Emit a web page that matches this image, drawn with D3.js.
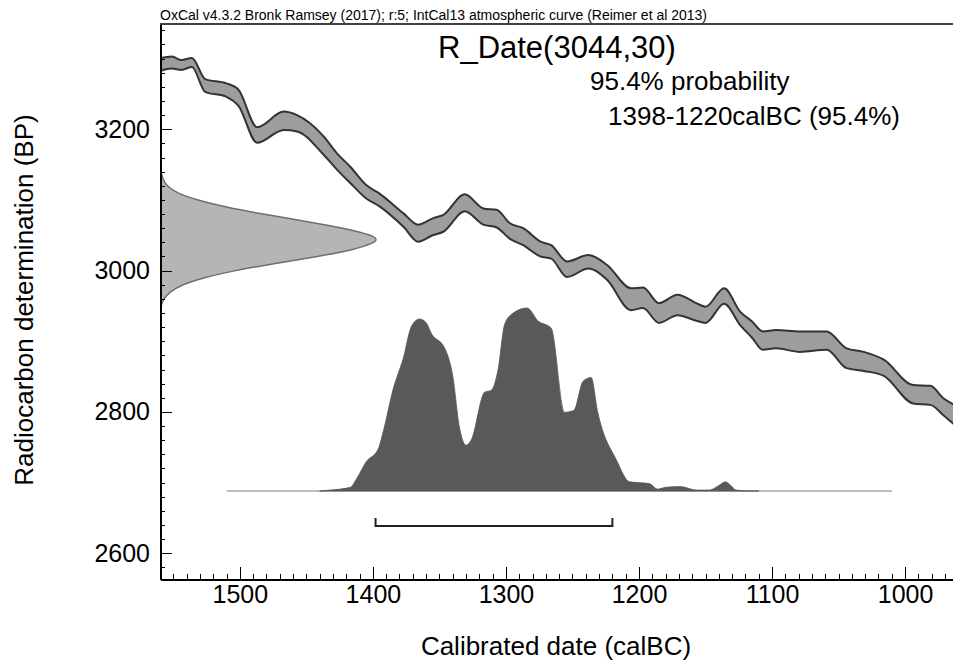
<!DOCTYPE html>
<html>
<head>
<meta charset="utf-8">
<script src="https://d3js.org/d3.v7.min.js"></script>
<style>
body { margin: 0; background: #fff; }
svg { display: block; font-family: "Liberation Sans", Arial, Helvetica, sans-serif; }
.axis path, .axis line { stroke: #000; fill: none; shape-rendering: crispEdges; }
.axis text { font-size: 25px; fill: #000; }
</style>
</head>
<body>
<div id="container"></div>
<script>

// IntCal13 band (calBC, BP)
var calYears   = [1561,1551,1544,1536,1526,1510,1501,1487,1467,1457,1437,1427,1417,1405,1395,1377,1366,1355,1347,1331,1317,1307,1297,1287,1274,1266,1254,1238,1224,1206,1197,1185,1171,1157,1150,1136,1124,1115,1107,1097,1079,1059,1044,1031,1016,994,981,971,963];
var bandTop    = [3300,3303,3298,3301,3271,3265,3256,3203,3225,3220,3190,3166,3147,3121,3109,3081,3065,3074,3079,3108,3088,3086,3067,3060,3041,3036,3013,3022,3008,2975,2976,2954,2966,2954,2949,2975,2942,2928,2914,2916,2914,2914,2890,2885,2874,2838,2837,2819,2810];
var bandBottom = [3282,3286,3284,3288,3253,3246,3233,3181,3199,3197,3164,3143,3124,3102,3091,3062,3041,3050,3055,3084,3065,3061,3045,3036,3020,3017,2991,3003,2987,2944,2947,2926,2937,2929,2926,2953,2923,2905,2888,2890,2885,2888,2862,2858,2851,2812,2810,2795,2782];

// measured radiocarbon date 3044 +/- 30 (relative density on the BP axis)
var bpLevels  = [3140,3130,3120,3110,3100,3090,3080,3070,3060,3050,3044,3040,3030,3020,3010,3000,2990,2980,2970,2960,2950];
var bpDensity = [0.005,0.012,0.03,0.075,0.17,0.30,0.47,0.67,0.85,0.98,1.0,0.99,0.90,0.73,0.53,0.34,0.20,0.10,0.045,0.016,0.005];

// calibrated distribution (relative probability)
var distYears = [1440,1432,1417,1412,1405,1396,1392,1385,1377,1371,1365,1360,1356,1346,1340,1335,1330,1326,1316,1311,1306,1301,1295,1284,1276,1266,1256,1249,1242,1236,1231,1217,1207,1199,1192,1186,1180,1169,1157,1147,1140,1135,1131,1127,1117,1110];
var distProb  = [0,0.005,0.02,0.07,0.16,0.23,0.33,0.55,0.73,0.90,0.94,0.92,0.86,0.78,0.63,0.35,0.25,0.28,0.54,0.55,0.66,0.91,0.97,1.00,0.93,0.89,0.43,0.44,0.60,0.62,0.43,0.17,0.05,0.045,0.04,0.01,0.02,0.024,0.005,0.005,0.03,0.05,0.03,0.005,0,0];

var calSpan   = [1510, 1010];   // extent of the distribution baseline
var range95   = [1398, 1220];   // 95.4% range
var xMajor    = [1500,1400,1300,1200,1100,1000];
var yMajor    = [2600,2800,3000,3200];

var headerText = "OxCal v4.3.2 Bronk Ramsey (2017); r:5; IntCal13 atmospheric curve (Reimer et al 2013)";
var titleText  = "R_Date(3044,30)";
var probText   = "95.4% probability";
var rangeText  = "1398-1220calBC (95.4%)";

var W = 953, H = 663;
var margin = {top: 24, right: 0, bottom: 84, left: 160};
var width = W - margin.left - margin.right,
    height = H - margin.top - margin.bottom;

var svg = d3.select("#container").append("svg")
    .attr("width", W)
    .attr("height", H);

var x = d3.scaleLinear().domain([1560, 964]).range([0, width]);
var y = d3.scaleLinear().domain([2563.6, 3349]).range([height, 0]);
// horizontal extent of the BP density and vertical extent of the calibrated distribution
var dens = d3.scaleLinear().domain([0, 1]).range([0, 217]);
var base = 467;
var prob = d3.scaleLinear().domain([0, 1]).range([base, base - 183]);

svg.append("defs").append("clipPath").attr("id", "plot")
  .append("rect").attr("x", 0).attr("y", 0).attr("width", width).attr("height", height);

var g = svg.append("g")
    .attr("transform", "translate(" + margin.left + "," + margin.top + ")");

var plot = g.append("g").attr("clip-path", "url(#plot)");

// calibration curve band
var band = calYears.map(function(d, i) { return {year: d, top: bandTop[i], bot: bandBottom[i]}; });
plot.append("path")
    .datum(band)
    .attr("fill", "#9d9d9d")
    .attr("stroke", "#333")
    .attr("stroke-width", 2)
    .attr("stroke-linejoin", "round")
    .attr("d", d3.area()
        .curve(d3.curveMonotoneX)
        .x(function(d) { return x(d.year); })
        .y0(function(d) { return y(d.bot); })
        .y1(function(d) { return y(d.top); }));

// radiocarbon date density on the y axis
var bpData = bpLevels.map(function(d, i) { return {bp: d, p: bpDensity[i]}; });
plot.append("path")
    .datum(bpData)
    .attr("fill", "#b5b5b5")
    .attr("stroke", "#6e6e6e")
    .attr("stroke-width", 1.5)
    .attr("d", d3.area()
        .curve(d3.curveBasis)
        .y(function(d) { return y(d.bp); })
        .x0(0)
        .x1(function(d) { return dens(d.p); }));

// distribution baseline
plot.append("line")
    .attr("x1", x(calSpan[0])).attr("x2", x(calSpan[1]))
    .attr("y1", base).attr("y2", base)
    .attr("stroke", "#bdbdbd")
    .attr("stroke-width", 2);

// calibrated distribution
var dist = distYears.map(function(d, i) { return {year: d, p: distProb[i]}; });
plot.append("path")
    .datum(dist)
    .attr("fill", "#595959")
    .attr("stroke", "#555")
    .attr("stroke-width", 0.8)
    .attr("d", d3.area()
        .curve(d3.curveMonotoneX)
        .x(function(d) { return x(d.year); })
        .y0(base)
        .y1(function(d) { return prob(d.p); }));

// 95.4% range bracket
var by = base + 35;
plot.append("path")
    .attr("fill", "none")
    .attr("stroke", "#222")
    .attr("stroke-width", 2)
    .attr("d", "M" + x(range95[0]) + "," + (by - 8) + "V" + by + "H" + x(range95[1]) + "V" + (by - 8));

// axes
var xMinor = d3.range(1560, 960, -10).filter(function(d) { return d % 100 !== 0; });
var yMinor = d3.range(2580, 3350, 20).filter(function(d) { return d % 200 !== 0; });

g.append("g")
    .attr("class", "axis")
    .call(d3.axisLeft(y).tickValues(yMinor).tickSize(-5).tickSizeOuter(0).tickFormat(""));
g.append("g")
    .attr("class", "axis")
    .call(d3.axisLeft(y).tickValues(yMajor).tickSize(-12).tickSizeOuter(0).tickPadding(10).tickFormat(d3.format("d")))
    .select(".domain").attr("stroke-width", 2);

g.append("g")
    .attr("class", "axis")
    .attr("transform", "translate(0," + height + ")")
    .call(d3.axisBottom(x).tickValues(xMinor).tickSize(-5).tickSizeOuter(0).tickFormat(""));
g.append("g")
    .attr("class", "axis")
    .attr("transform", "translate(0," + height + ")")
    .call(d3.axisBottom(x).tickValues(xMajor).tickSize(-12).tickSizeOuter(0).tickPadding(6).tickFormat(d3.format("d")))
    .select(".domain").attr("stroke-width", 2);

// top frame
g.append("line")
    .attr("x1", 0).attr("x2", width)
    .attr("y1", 0).attr("y2", 0)
    .attr("stroke", "#000")
    .attr("stroke-width", 1.5);

// texts
svg.append("text")
    .attr("x", 160).attr("y", 20)
    .style("font-size", "14px")
    .text(headerText);

svg.append("text")
    .attr("x", 438).attr("y", 58)
    .style("font-size", "31px")
    .text(titleText);

svg.append("text")
    .attr("x", 590).attr("y", 90)
    .style("font-size", "26px")
    .text(probText);

svg.append("text")
    .attr("x", 608).attr("y", 125)
    .style("font-size", "26px")
    .text(rangeText);

svg.append("text")
    .attr("transform", "translate(33,300) rotate(-90)")
    .attr("text-anchor", "middle")
    .style("font-size", "26px")
    .text("Radiocarbon determination (BP)");

svg.append("text")
    .attr("x", 556).attr("y", 655)
    .attr("text-anchor", "middle")
    .style("font-size", "26px")
    .text("Calibrated date (calBC)");

</script>
</body>
</html>
